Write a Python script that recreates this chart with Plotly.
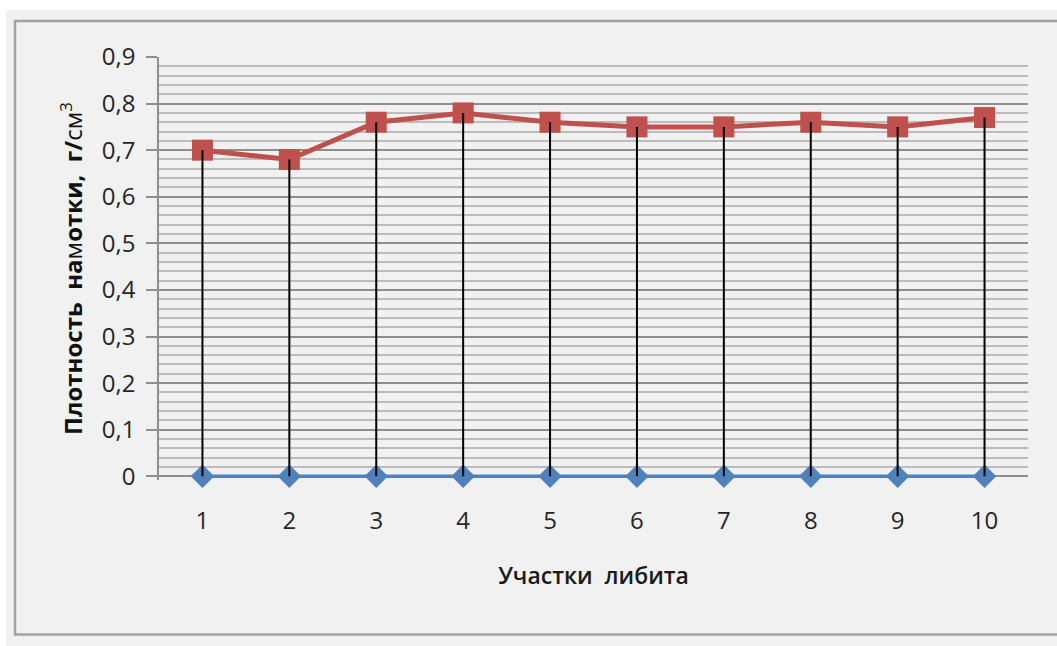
import plotly.graph_objects as go

# Winding density per section of the liber
sections = [1, 2, 3, 4, 5, 6, 7, 8, 9, 10]
density = [0.70, 0.68, 0.76, 0.78, 0.76, 0.75, 0.75, 0.76, 0.75, 0.77]
baseline = [0, 0, 0, 0, 0, 0, 0, 0, 0, 0]
y_ticks = [0, 0.1, 0.2, 0.3, 0.4, 0.5, 0.6, 0.7, 0.8, 0.9]
y_tick_text = ["0", "0,1", "0,2", "0,3", "0,4", "0,5", "0,6", "0,7", "0,8", "0,9"]

W, H = 1057, 646
Y_MIN, Y_MAX = -0.008, 0.9
ZERO_PX, TOP_PX = 476, 57
PX_PER_UNIT = (ZERO_PX - TOP_PX) / Y_MAX
L, R, T = 159, 1028, TOP_PX
B = ZERO_PX - Y_MIN * PX_PER_UNIT  # small pad below zero so the baseline is not clipped


def px(x):
    return (x - L) / (R - L)


def py(y):
    return (B - y) / (B - T)


# drop lines from each density point down to the axis
drop_x, drop_y = [], []
for s, d, b in zip(sections, density, baseline):
    drop_x += [s, s, None]
    drop_y += [d, b, None]

fig = go.Figure()
fig.add_trace(go.Scatter(
    x=sections, y=baseline, mode="lines+markers",
    line=dict(color="#4f81bd", width=3.5),
    marker=dict(symbol="diamond", size=18, color="#4f81bd"),
    cliponaxis=False, showlegend=False,
))
fig.add_trace(go.Scatter(
    x=sections, y=density, mode="lines+markers",
    line=dict(color="#c0504d", width=5),
    marker=dict(symbol="square", size=21, color="#c0504d"),
    cliponaxis=False, showlegend=False,
))
fig.add_trace(go.Scatter(
    x=drop_x, y=drop_y, mode="lines",
    line=dict(color="#000000", width=2),
    hoverinfo="skip", showlegend=False,
))

shapes = [
    # white outer strip at the top and left
    dict(type="rect", xref="paper", yref="paper", x0=px(-5), x1=px(W + 5), y0=py(10), y1=py(-5),
         fillcolor="#ffffff", line=dict(width=0), layer="below"),
    dict(type="rect", xref="paper", yref="paper", x0=px(-5), x1=px(6), y0=py(W), y1=py(-5),
         fillcolor="#ffffff", line=dict(width=0), layer="below"),
    # chart frame
    dict(type="rect", xref="paper", yref="paper", x0=px(15), x1=px(W + 20), y0=py(634), y1=py(21),
         fillcolor="rgba(0,0,0,0)", line=dict(color="#a3a3a3", width=2.5), layer="below"),
]

fig.update_layout(
    width=W, height=H,
    margin=dict(l=L, r=W - R, t=T, b=H - B),
    paper_bgcolor="#f1f1f1",
    plot_bgcolor="#f1f1f1",
    font=dict(family="Open Sans", size=24, color="#262626"),
    shapes=shapes,
    xaxis=dict(
        range=[0.5, 10.5], tickvals=sections, ticktext=[str(s) for s in sections],
        showgrid=False, zeroline=False, showline=False, ticks="",
        ticklabelstandoff=24,
        title=dict(text="Участки  либита", font=dict(family="Open Sans", size=23, color="#1a1a1a",
                                                     weight=600), standoff=32),
    ),
    yaxis=dict(
        range=[Y_MIN, Y_MAX], tickvals=y_ticks, ticktext=y_tick_text,
        showgrid=True, gridcolor="#8e8e8e", gridwidth=1.5,
        minor=dict(tickvals=[round(0.02 * i, 2) for i in range(1, 45) if i % 5],
                   showgrid=True, gridcolor="#bcbcbc", gridwidth=1.5, ticks=""),
        zeroline=False,
        showline=True, linecolor="#8e8e8e", linewidth=1.5,
        ticks="outside", ticklen=11, tickcolor="#8e8e8e", tickwidth=1.5,
        ticklabelstandoff=6,
        title=dict(text="<b>Плотность  на</b>м<b>отки,  г/</b>см<sup>3</sup>",
                   font=dict(family="Open Sans", size=24, color="#111111"), standoff=12),
    ),
)

fig.write_html("out.html")
